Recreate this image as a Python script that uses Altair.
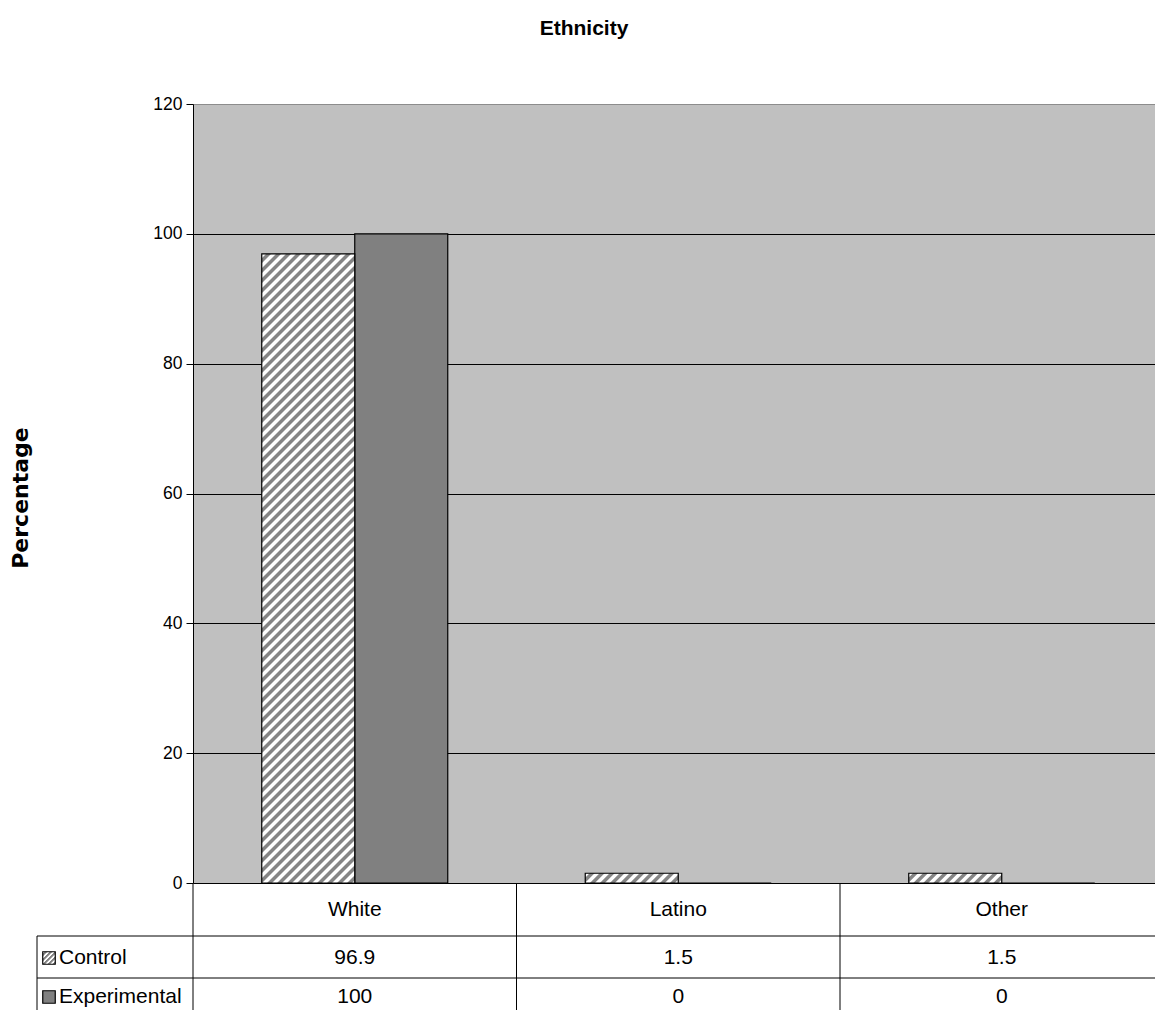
import altair as alt
import pandas as pd

# ---- data -------------------------------------------------------------
categories = ["White", "Latino", "Other"]
groups = ["Control", "Experimental"]
control = [96.9, 1.5, 1.5]
experimental = [100, 0, 0]
y_ticks = [0, 20, 40, 60, 80, 100, 120]

rows = []
for cat, c, e in zip(categories, control, experimental):
    rows.append({"category": cat, "group": "Control", "value": c})
    rows.append({"category": cat, "group": "Experimental", "value": e})
df = pd.DataFrame(rows)
df["label"] = df["value"].map(lambda v: f"{v:g}")
cat_df = pd.DataFrame({"category": categories})
grp_df = pd.DataFrame({"group": groups})

# ---- geometry / style -------------------------------------------------
PLOT_W = 962          # visible plot area
X_RANGE = 970.5       # category scale runs a little past the visible edge
PLOT_H = 779
Y_MAX = 120
BAND = X_RANGE / len(categories)
BAR_W = 93
PAD_OUTER = (BAND / BAR_W - len(groups)) / 2

FONT = "Liberation Sans, Arial, sans-serif"
GREY_BG = "#C0C0C0"
DARK = "#808080"


def bar_px(v):
    return v / Y_MAX * PLOT_H


def hatch(w, h, period=10.0, light="#ffffff", dark="#858585"):
    """Diagonal '/' stripes as a linear gradient in bounding-box units."""
    total = w + h
    k = total / (w * w + h * h)
    pattern = [(0.0, light), (0.36, light), (0.5, dark), (0.86, dark), (1.0, light)]
    stops = []
    i = 0
    while i * period <= total:
        for frac, col in pattern:
            off = (i + frac) * period / total
            if off <= 1:
                stops.append({"offset": round(off, 5), "color": col})
        i += 1
    return {"gradient": "linear", "x1": 0, "y1": 0,
            "x2": round(k * w, 5), "y2": round(k * h, 5), "stops": stops}


def x_scale():
    return alt.Scale(domain=categories, range=[0, X_RANGE],
                     paddingInner=0, paddingOuter=0)


x_enc = alt.X("category:N", sort=categories, scale=x_scale(), axis=None)
xoff_enc = alt.XOffset("group:N",
                       scale=alt.Scale(domain=groups, paddingInner=0,
                                       paddingOuter=PAD_OUTER))
y_enc = alt.Y("value:Q",
              scale=alt.Scale(domain=[0, Y_MAX], nice=False),
              axis=alt.Axis(values=y_ticks, title="Percentage",
                            titleFont="DejaVu Sans", titleFontSize=22,
                            titleFontWeight="bold", titleColor="black",
                            titleAngle=270, titleX=-173, titleY=PLOT_H / 2 + 4,
                            titleAlign="center", titleBaseline="middle",
                            labelFont=FONT, labelFontSize=17.5,
                            labelColor="black", labelPadding=4,
                            tickColor="black", tickSize=7,
                            domainColor="black",
                            grid=True,
                            gridColor=alt.condition("datum.value == 120",
                                                    alt.value("#8c8c8c"),
                                                    alt.value("black")),
                            gridWidth=1))

base = alt.Chart(df)

# experimental bars (solid grey)
exp_bars = base.transform_filter(alt.datum.group == "Experimental").mark_bar(
    fill=DARK, stroke="black", strokeWidth=1.2
).encode(x=x_enc, xOffset=xoff_enc, y=y_enc)

# control bars (hatched), one layer per bar so each gets its own stripes
ctrl_layers = []
for cat, v in zip(categories, control):
    ctrl_layers.append(
        base.transform_filter(
            (alt.datum.group == "Control") & (alt.datum.category == cat)
        ).mark_bar(stroke="black", strokeWidth=1.2).encode(
            x=x_enc, xOffset=xoff_enc, y=y_enc,
            fill=alt.value(hatch(BAR_W, bar_px(v)))
        )
    )

# ---- data table under the plot ---------------------------------------
ROW_HEAD = PLOT_H + 27
LINE_1 = PLOT_H + 53
ROW_CTRL = PLOT_H + 75
LINE_2 = PLOT_H + 95
ROW_EXP = PLOT_H + 114
TABLE_BOTTOM = PLOT_H + 140
TABLE_LEFT = -156

one = alt.Data(values=[{}])
txt = dict(font=FONT, fontSize=21, color="black", baseline="middle")

head_text = alt.Chart(cat_df).mark_text(**txt).encode(
    x=alt.X("category:N", sort=categories, scale=x_scale(), axis=None),
    text="category:N", y=alt.value(ROW_HEAD))

ctrl_text = base.transform_filter(alt.datum.group == "Control").mark_text(**txt).encode(
    x=x_enc, text="label:N", y=alt.value(ROW_CTRL))
exp_text = base.transform_filter(alt.datum.group == "Experimental").mark_text(**txt).encode(
    x=x_enc, text="label:N", y=alt.value(ROW_EXP))

sep_rules = alt.Chart(cat_df).mark_rule(color="black", strokeWidth=1).encode(
    x=alt.X("category:N", sort=categories, bandPosition=0,
            scale=x_scale(), axis=None),
    y=alt.value(PLOT_H), y2=alt.value(TABLE_BOTTOM))

h_rule_1 = alt.Chart(one).mark_rule(color="black", strokeWidth=1).encode(
    x=alt.value(TABLE_LEFT), x2=alt.value(PLOT_W), y=alt.value(LINE_1))
h_rule_2 = alt.Chart(one).mark_rule(color="black", strokeWidth=1).encode(
    x=alt.value(TABLE_LEFT), x2=alt.value(PLOT_W), y=alt.value(LINE_2))
left_rule = alt.Chart(one).mark_rule(color="black", strokeWidth=1).encode(
    x=alt.value(TABLE_LEFT), y=alt.value(LINE_1), y2=alt.value(TABLE_BOTTOM))

KEY_X = TABLE_LEFT + 12
KEY_SIZE = 12.5
key_ctrl = alt.Chart(grp_df).transform_filter(alt.datum.group == "Control").mark_point(
    shape="square", size=KEY_SIZE ** 2, filled=True, stroke="black", strokeWidth=1.2,
    fill=hatch(KEY_SIZE, KEY_SIZE, period=5.0), opacity=1
).encode(x=alt.value(KEY_X), y=alt.value(ROW_CTRL))
key_exp = alt.Chart(grp_df).transform_filter(alt.datum.group == "Experimental").mark_point(
    shape="square", size=KEY_SIZE ** 2, filled=True, stroke="black", strokeWidth=1.2,
    fill=DARK, opacity=1
).encode(x=alt.value(KEY_X), y=alt.value(ROW_EXP))

key_text_ctrl = alt.Chart(grp_df).transform_filter(alt.datum.group == "Control").mark_text(
    align="left", **txt).encode(x=alt.value(KEY_X + 10), y=alt.value(ROW_CTRL), text="group:N")
key_text_exp = alt.Chart(grp_df).transform_filter(alt.datum.group == "Experimental").mark_text(
    align="left", **txt).encode(x=alt.value(KEY_X + 10), y=alt.value(ROW_EXP), text="group:N")

chart = alt.layer(
    exp_bars, *ctrl_layers,
    sep_rules, h_rule_1, h_rule_2, left_rule,
    head_text, ctrl_text, exp_text,
    key_ctrl, key_exp, key_text_ctrl, key_text_exp,
).properties(
    width=PLOT_W, height=PLOT_H,
    background="white",
    title=alt.Title("Ethnicity", font=FONT, fontSize=21, fontWeight="bold",
                    color="black", anchor="middle", dx=-90, offset=56),
    autosize=alt.AutoSizeParams(type="none"),
    padding={"left": 193, "top": 104, "right": 0, "bottom": 127},
).configure_view(
    fill=GREY_BG, stroke=None
)

chart.save("out.html", embed_options={"renderer": "svg", "actions": False})
